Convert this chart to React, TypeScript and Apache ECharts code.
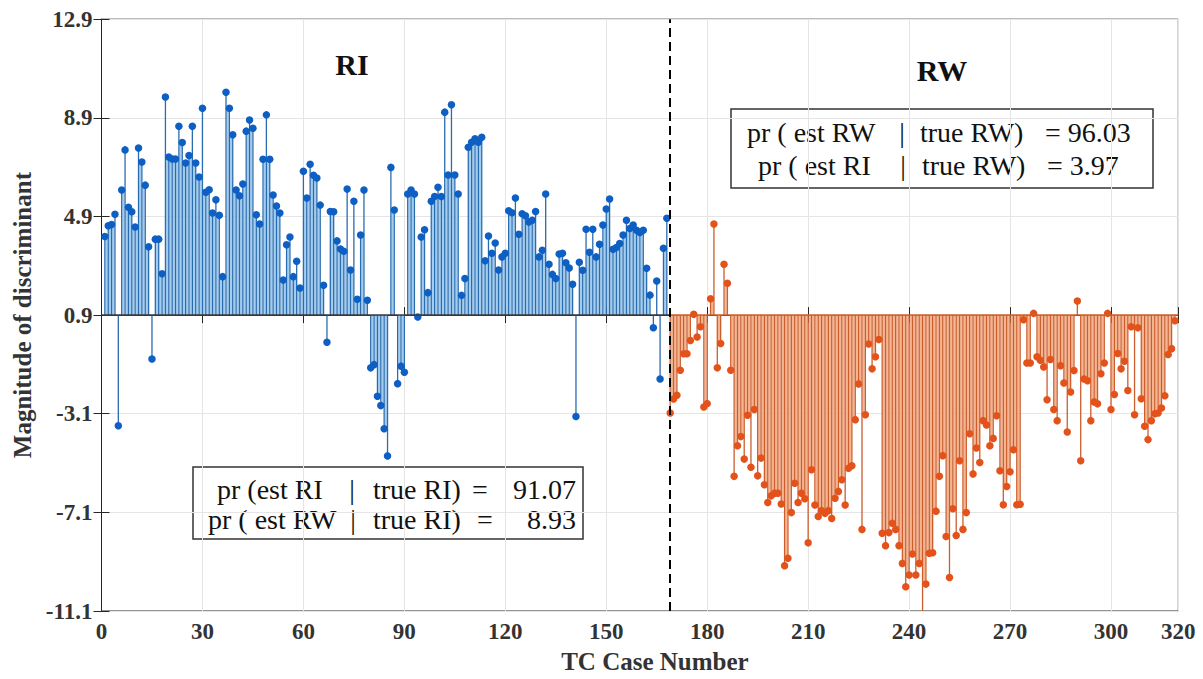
import React, { useEffect, useRef } from "react";
import * as echarts from "echarts";

// Baseline of the stems (the y value the stems start from)
const BASE = 0.9;

// RI cases (case numbers 1..168)
const RI_START = 1;
const riValues = [
  4.09, 4.52, 4.57, 4.99, -3.59, 5.97, 7.6, 5.27, 5.09, 4.47,
  7.68, 7.11, 6.17, 3.67, -0.88, 3.98, 3.98, 2.58, 9.74, 7.31,
  7.23, 7.23, 8.56, 7.9, 7.07, 7.37, 8.56, 7.07, 6.5, 9.29,
  5.88, 5.98, 5.04, 5.58, 4.95, 2.46, 9.94, 9.29, 8.21, 5.97,
  5.74, 6.22, 8.36, 8.81, 8.48, 4.97, 4.59, 7.22, 9.02, 7.22,
  5.77, 5.32, 5.04, 2.32, 3.75, 4.07, 2.46, 3.08, 2.0, 6.73,
  5.65, 7.02, 6.57, 6.46, 5.36, 2.11, -0.2, 5.1, 5.09, 3.91,
  3.58, 3.49, 6.01, 2.73, 5.52, 1.54, 4.15, 5.97, 1.5, -1.24,
  -1.11, -2.39, -2.77, -3.71, -4.81, 6.89, 5.16, -1.88, -1.17, -1.42,
  5.81, 5.97, 5.81, 0.82, 4.07, 4.36, 1.81, 5.52, 5.71, 6.08,
  5.71, 9.13, 6.58, 9.43, 6.58, 5.81, 1.7, 2.38, 7.71, 7.91,
  8.05, 7.91, 8.11, 3.1, 4.11, 3.41, 3.82, 2.73, 3.26, 3.41,
  5.13, 5.05, 5.65, 4.18, 5.01, 4.93, 4.68, 4.75, 5.1, 3.26,
  3.53, 5.81, 2.96, 2.55, 2.38, 3.38, 3.41, 3.02, 2.81, 2.15,
  -3.21, 3.04, 2.72, 4.38, 3.45, 4.38, 3.26, 3.77, 4.55, 5.2,
  5.61, 3.57, 3.64, 3.8, 4.15, 4.75, 4.41, 4.55, 4.34, 4.25,
  4.34, 2.8, 1.71, 0.39, 2.28, -1.69, 3.61, 4.83,
];

// RW cases (case numbers 169..319)
const RW_START = 169;
const rwValues = [
  -3.07, -2.5, -2.35, -1.34, -0.67, -0.67, -0.13, 0.93, 0.01, 0.43,
  -2.83, -2.69, 1.56, 4.59, -1.24, -0.25, 2.96, 2.19, -1.34, -5.64,
  -4.4, -4.02, -4.94, -3.16, -5.27, -2.93, -5.62, -4.9, -5.98, -6.7,
  -6.43, -6.32, -6.32, -6.76, -9.26, -8.96, -7.11, -5.92, -6.7, -6.32,
  -6.55, -8.33, -5.37, -6.8, -7.27, -7.03, -7.14, -7.03, -7.35, -6.53,
  -6.25, -5.78, -6.8, -5.31, -5.21, -3.34, -1.89, -7.79, -3.14, -0.27,
  -1.28, -0.79, -0.09, -7.95, -8.45, -7.92, -7.54, -7.79, -8.45, -9.17,
  -10.12, -9.64, -8.79, -9.64, -9.17, -11.25, -10.01, -8.76, -8.74, -7.05,
  -5.64, -4.8, -8.08, -9.74, -6.95, -8.04, -5.01, -7.79, -7.11, -3.91,
  -5.54, -4.49, -5.08, -3.38, -3.56, -4.4, -4.1, -3.18, -5.41, -6.79,
  -6.05, -5.45, -4.56, -6.79, -6.77, 0.71, -1.04, -1.04, 0.97, -0.79,
  -0.93, -1.2, -2.53, -0.9, -2.93, -3.38, -1.15, -1.85, -3.84, -2.22,
  -1.35, 1.47, -5.01, -1.69, -1.76, -3.38, -2.62, -2.7, -1.48, -1.04,
  0.97, -2.93, -2.32, -0.66, -1.28, -0.97, -2.16, 0.43, -3.14, 0.39,
  -2.49, -3.61, -4.15, -3.38, -3.1, -3.07, -2.87, -2.37, -0.7, -0.46,
  0.67,
];

// Axis settings
const X_MIN = 0;
const X_MAX = 320;
const X_STEP = 30;
const Y_MIN = -11.1;
const Y_MAX = 12.9;
const Y_STEP = 4;
const SPLIT_CASE = 169;

const X_TITLE = "TC Case Number";
const Y_TITLE = "Magnitude of discriminant";

const riBox = [
  ["pr (est RI", "|", "true RI)", "=", "91.07"],
  ["pr ( est RW", "|", "true RI)", "=", "8.93"],
];
const rwBox = [
  ["pr ( est RW", "|", "true RW)", "= 96.03"],
  ["pr ( est RI", "|", "true RW)", "= 3.97"],
];

const SERIF = "'Liberation Serif', 'Times New Roman', serif";
const AXIS_COLOR = "#262626";

function stemData(values: number[], start: number) {
  return values.map((v, i) => [
    start + i,
    v - BASE,
    i + 1 < values.length ? values[i + 1] - BASE : NaN,
  ]);
}

function makeRender(light: string, dark: string) {
  return (params: any, api: any) => {
    const x = api.value(0);
    const y = api.value(1);
    const yn = api.value(2);
    const base = api.coord([x, 0]);
    const top = api.coord([x, y]);
    const children: any[] = [];
    if (isFinite(yn) && yn * y > 0) {
      const h = y > 0 ? Math.min(y, yn) : Math.max(y, yn);
      const p2 = api.coord([x + 1, h]);
      const x0 = base[0] + 0.6;
      const x1 = p2[0] - 0.6;
      children.push({
        type: "rect",
        shape: {
          x: x0,
          y: Math.min(base[1], p2[1]),
          width: x1 - x0,
          height: Math.abs(p2[1] - base[1]),
        },
        style: { fill: light },
      });
    }
    children.push({
      type: "line",
      shape: { x1: base[0], y1: base[1], x2: top[0], y2: top[1] },
      style: { stroke: dark, lineWidth: 1.3 },
    });
    return { type: "group", children };
  };
}

export default function App() {
  const ref = useRef<HTMLDivElement>(null);

  useEffect(() => {
    if (!ref.current) return;
    const chart = echarts.init(ref.current, null, { renderer: "svg" });

    const riData = stemData(riValues, RI_START);
    const rwData = stemData(rwValues, RW_START);

    const yMinS = Y_MIN - BASE;
    const yMaxS = Y_MAX - BASE;
    const yFmt = (v: number) => (v + BASE).toFixed(1);

    const graphics: any[] = [
      {
        type: "text",
        x: 352,
        y: 64,
        style: {
          text: "RI",
          fontFamily: SERIF,
          fontWeight: "bold",
          fontSize: 30,
          fill: "#111",
          align: "center",
          verticalAlign: "middle",
        },
      },
      {
        type: "text",
        x: 942,
        y: 70,
        style: {
          text: "RW",
          fontFamily: SERIF,
          fontWeight: "bold",
          fontSize: 30,
          fill: "#111",
          align: "center",
          verticalAlign: "middle",
        },
      },
      {
        type: "rect",
        shape: { x: 731, y: 109, width: 422, height: 79 },
        style: { fill: "none", stroke: "#333", lineWidth: 1.5 },
      },
      {
        type: "rect",
        shape: { x: 193, y: 467, width: 390, height: 72 },
        style: { fill: "none", stroke: "#333", lineWidth: 1.5 },
      },
    ];

    const addText = (text: string, x: number, y: number, align: string) => {
      graphics.push({
        type: "text",
        x,
        y,
        style: {
          text,
          fontFamily: SERIF,
          fontSize: 28,
          fill: "#111",
          align,
          verticalAlign: "middle",
        },
      });
    };
    // RW box
    const rwX = [[747, 902, 920, 1045], [758, 903, 922, 1047]];
    const rwY = [132, 165];
    rwBox.forEach((row, r) => {
      addText(row[0], rwX[r][0], rwY[r], "left");
      addText(row[1], rwX[r][1], rwY[r], "center");
      addText(row[2], rwX[r][2], rwY[r], "left");
      addText(row[3], rwX[r][3], rwY[r], "left");
    });
    // RI box
    const riX = [[217, 352, 373, 480, 576], [208, 353, 373, 485, 576]];
    const riY = [489, 519];
    riBox.forEach((row, r) => {
      addText(row[0], riX[r][0], riY[r], "left");
      addText(row[1], riX[r][1], riY[r], "center");
      addText(row[2], riX[r][2], riY[r], "left");
      addText(row[3], riX[r][3], riY[r], "center");
      addText(row[4], riX[r][4], riY[r], "right");
    });

    const grid = {
      left: 101.5,
      top: 19.2,
      right: 24.7,
      bottom: 68,
      show: true,
      borderColor: AXIS_COLOR,
      borderWidth: 1,
      backgroundColor: "#fff",
    };

    const labelStyle = {
      fontFamily: SERIF,
      fontWeight: "bold",
      fontSize: 23,
      color: "#333",
    };
    const titleStyle = {
      fontFamily: SERIF,
      fontWeight: "bold",
      fontSize: 25,
      color: "#333",
    };

    chart.setOption({
      animation: false,
      backgroundColor: "#fff",
      grid,
      xAxis: [
        {
          type: "value",
          min: X_MIN,
          max: X_MAX,
          interval: X_STEP,
          name: X_TITLE,
          nameLocation: "middle",
          nameGap: 38,
          nameTextStyle: { ...titleStyle, padding: [0, 0, 0, 30] },
          axisLine: { show: true, lineStyle: { color: AXIS_COLOR, width: 1 } },
          axisTick: { show: true, inside: true, length: 8, lineStyle: { color: AXIS_COLOR } },
          axisLabel: { ...labelStyle, margin: 9 },
          splitLine: { show: true, lineStyle: { color: "#e5e5e5", width: 1 } },
        },
        {
          type: "value",
          position: "top",
          min: X_MIN,
          max: X_MAX,
          interval: X_STEP,
          axisLine: { show: true, lineStyle: { color: AXIS_COLOR, width: 1 } },
          axisTick: { show: true, inside: true, length: 8, lineStyle: { color: AXIS_COLOR } },
          axisLabel: { show: false },
          splitLine: { show: false },
        },
      ],
      yAxis: [
        {
          type: "value",
          min: yMinS,
          max: yMaxS,
          interval: Y_STEP,
          name: Y_TITLE,
          nameLocation: "middle",
          nameGap: 67,
          nameTextStyle: titleStyle,
          axisLine: { show: true, lineStyle: { color: AXIS_COLOR, width: 1 } },
          axisTick: { show: true, inside: true, length: 8, lineStyle: { color: AXIS_COLOR } },
          axisLabel: { ...labelStyle, margin: 9, formatter: yFmt },
          splitLine: { show: true, lineStyle: { color: "#e5e5e5", width: 1 } },
        },
        {
          type: "value",
          position: "right",
          min: yMinS,
          max: yMaxS,
          interval: Y_STEP,
          axisLine: { show: true, lineStyle: { color: AXIS_COLOR, width: 1 } },
          axisTick: { show: true, inside: true, length: 8, lineStyle: { color: AXIS_COLOR } },
          axisLabel: { show: false },
          splitLine: { show: false },
        },
      ],
      series: [
        {
          type: "custom",
          name: "RI stems",
          clip: true,
          z: 2,
          dimensions: ["x", "y", "next"],
          encode: { x: 0, y: 1 },
          data: riData,
          renderItem: makeRender("#a3cdee", "#2a6cb0"),
          markLine: {
            silent: true,
            symbol: ["none", "none"],
            label: { show: false },
            lineStyle: { color: "#3a3a3a", width: 1.5, type: "solid" },
            data: [[{ coord: [X_MIN, 0] }, { coord: [SPLIT_CASE, 0] }]],
          },
        },
        {
          type: "custom",
          name: "RW stems",
          clip: true,
          z: 2,
          dimensions: ["x", "y", "next"],
          encode: { x: 0, y: 1 },
          data: rwData,
          renderItem: makeRender("#f4b590", "#cc5d2c"),
          markLine: {
            silent: true,
            symbol: ["none", "none"],
            label: { show: false },
            lineStyle: { color: "#c8602e", width: 1.5, type: "solid" },
            data: [[{ coord: [SPLIT_CASE, 0] }, { coord: [X_MAX, 0] }]],
          },
        },
        {
          type: "scatter",
          name: "RI",
          z: 3,
          clip: true,
          symbolSize: 7.5,
          itemStyle: { color: "#0d5fc4", opacity: 1 },
          data: riData.map((d) => [d[0], d[1]]),
        },
        {
          type: "scatter",
          name: "RW",
          z: 4,
          clip: true,
          symbolSize: 7.5,
          itemStyle: { color: "#e4521b", opacity: 1 },
          data: rwData.map((d) => [d[0], d[1]]),
          markLine: {
            silent: true,
            symbol: ["none", "none"],
            label: { show: false },
            lineStyle: { color: "#000", width: 2, type: [9, 5] },
            data: [{ xAxis: SPLIT_CASE }],
          },
        },
      ],
      graphic: graphics,
    });

    return () => chart.dispose();
  }, []);

  return (
    <div
      ref={ref}
      style={{ position: "absolute", left: 0, top: 0, width: 1203, height: 679 }}
    />
  );
}
